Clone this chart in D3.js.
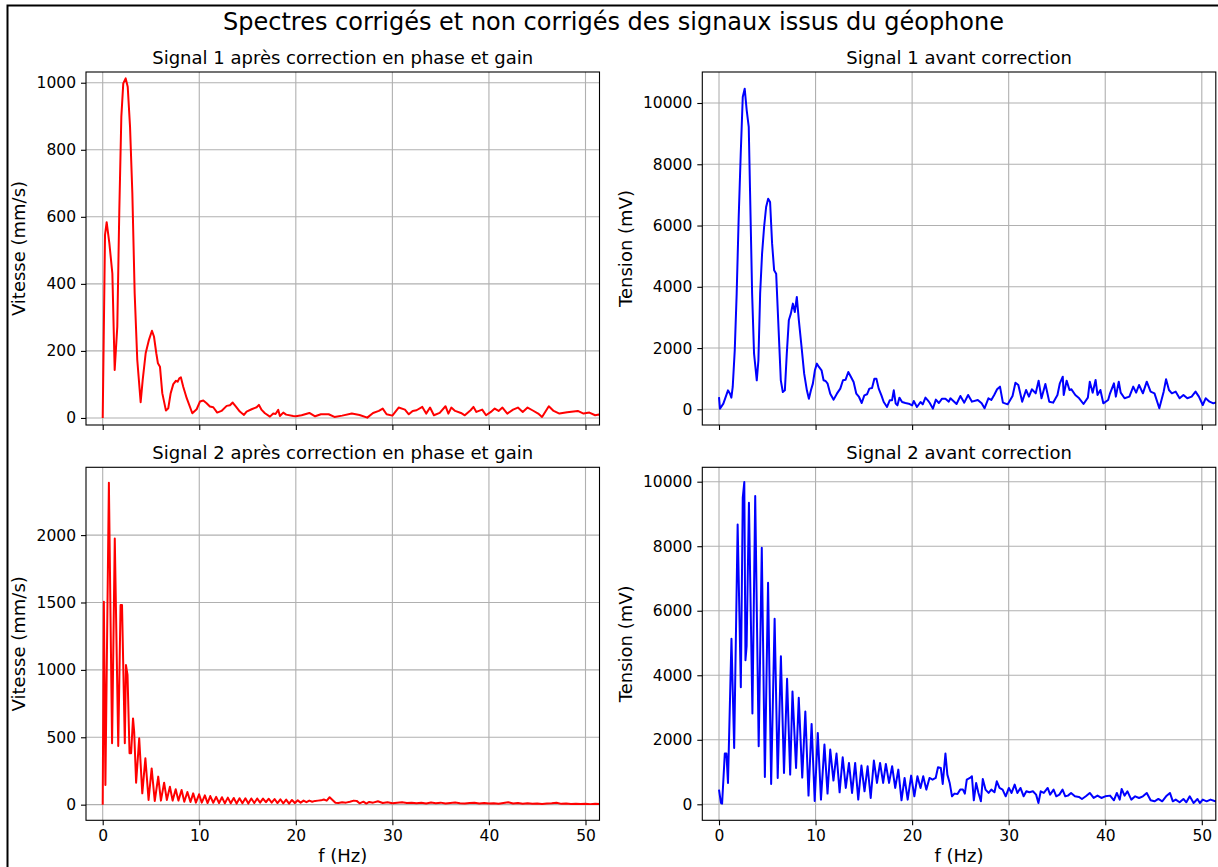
<!DOCTYPE html>
<html>
<head>
<meta charset="utf-8">
<script src="https://cdn.jsdelivr.net/npm/d3@7"></script>
<style>
  html, body { margin: 0; padding: 0; background: #fff; }
  svg { display: block; font-family: "DejaVu Sans", sans-serif; }
</style>
</head>
<body>
<svg id="fig" width="1218" height="867"></svg>
<script>
// Spectrum of signal 1 after phase/gain correction: [f (Hz), velocity (mm/s)]
const signal1Corrected = [
  [0,0],[0.24,546],[0.41,584],[0.69,521],[1.0,431],[1.24,143],[1.51,272],[1.72,620],[1.93,899],[2.13,998],
  [2.38,1013],[2.59,988],[2.83,869],[3.07,670],[3.31,372],[3.58,173],[3.93,47],[4.14,113],[4.45,193],[4.79,233],
  [5.1,260],[5.31,243],[5.55,193],[5.72,163],[5.93,153],[6.17,74],[6.55,22],[6.79,29],[7.04,74],[7.31,101],
  [7.59,111],[7.76,108],[7.93,118],[8.1,121],[8.34,93],[8.7,59],[9.28,14],[9.73,26],[10.07,49],[10.42,52],
  [10.76,44],[11.1,34],[11.45,32],[11.86,16],[12.3,21],[12.84,36],[13.18,38],[13.46,46],[13.8,34],[14.2,19],
  [14.63,9],[14.9,19],[15.42,26],[15.94,32],[16.18,39],[16.46,24],[16.8,14],[17.32,4],[17.66,13],[17.9,12],
  [18.18,24],[18.35,6],[18.7,16],[19.0,10],[19.73,6],[20.0,5],[20.6,8],[21.4,15],[22.0,5],[22.6,11],
  [23.4,11],[24.0,3],[24.8,7],[25.8,13],[26.6,9],[27.4,1],[28.0,15],[28.6,21],[29.0,28],[29.4,11],
  [30.0,7],[30.65,31],[31.3,25],[31.7,11],[32.1,21],[32.5,23],[33.1,33],[33.5,13],[33.9,31],[34.3,8],
  [34.9,15],[35.5,35],[35.8,13],[36.1,31],[36.5,21],[37.1,15],[37.5,8],[38.1,23],[38.4,33],[38.7,18],
  [39.3,25],[39.7,8],[40.2,18],[40.6,28],[41.0,21],[41.4,31],[41.9,13],[42.5,25],[43.0,31],[43.5,18],
  [44.0,31],[44.5,23],[45.1,13],[45.5,3],[46.2,35],[46.7,21],[47.3,13],[48.1,17],[49.2,21],[49.8,13],
  [50.4,16],[51.0,8],[51.4,10],[51.8,9]
];

// Spectrum of signal 1 before correction: [f (Hz), voltage (mV)]
const signal1Raw = [
  [0,400],[0.1,20],[0.45,185],[0.93,620],[1.14,510],[1.28,380],[1.42,730],[1.63,1925],[1.83,3776],[2.04,6280],
  [2.25,8346],[2.46,10196],[2.66,10468],[2.87,9761],[3.08,9217],[3.22,7040],[3.43,3776],[3.63,1817],[3.91,947],[4.08,1600],
  [4.26,3776],[4.46,5082],[4.67,5952],[4.88,6605],[5.09,6877],[5.29,6768],[5.5,5408],[5.71,4538],[5.92,4429],[6.16,2688],
  [6.4,947],[6.61,566],[6.82,620],[7.02,1817],[7.23,2905],[7.44,3123],[7.65,3450],[7.85,3177],[8.06,3667],[8.27,2905],
  [8.55,2035],[8.82,1164],[9.1,620],[9.31,348],[9.52,620],[9.72,838],[9.93,1273],[10.14,1491],[10.35,1382],[10.62,1273],
  [10.83,947],[11.04,925],[11.25,838],[11.52,511],[11.87,316],[12.21,511],[12.56,675],[12.84,947],[13.11,968],[13.39,1219],
  [13.67,1055],[13.94,892],[14.22,511],[14.5,403],[14.78,207],[15.05,457],[15.33,490],[15.57,675],[15.85,696],[16.09,1001],
  [16.3,1001],[16.54,675],[16.82,457],[17.06,239],[17.4,76],[17.68,294],[17.92,294],[18.1,620],[18.3,185],[18.48,130],
  [18.68,381],[18.96,239],[19.3,207],[19.65,185],[20.0,130],[20.17,272],[20.5,76],[20.87,239],[21.1,163],[21.38,381],
  [21.63,294],[21.83,207],[22.15,22],[22.46,316],[22.77,207],[23.1,348],[23.45,348],[23.8,250],[23.97,360],[24.6,174],
  [25.0,435],[25.4,218],[25.8,468],[26.2,250],[26.8,305],[27.2,196],[27.5,33],[27.9,360],[28.2,305],[28.5,468],
  [28.8,653],[29.1,740],[29.4,218],[29.9,163],[30.4,435],[30.7,870],[31.0,794],[31.4,250],[31.8,631],[32.1,414],
  [32.4,653],[32.8,522],[33.1,936],[33.4,360],[33.8,827],[34.2,250],[34.6,218],[35.05,468],[35.3,849],[35.6,1066],
  [35.7,468],[36.0,936],[36.3,631],[36.5,653],[36.9,468],[37.3,360],[37.75,174],[38.2,381],[38.4,903],[38.7,544],
  [39.0,957],[39.2,468],[39.5,631],[39.8,196],[40.3,305],[40.5,522],[40.9,849],[41.1,414],[41.4,903],[41.6,544],
  [42.0,360],[42.5,414],[42.9,740],[43.2,544],[43.5,794],[43.9,522],[44.3,903],[44.7,577],[45.1,522],[45.6,33],
  [46.05,577],[46.3,980],[46.6,631],[46.9,522],[47.3,577],[47.7,360],[48.1,468],[48.5,360],[48.95,414],[49.35,577],
  [49.7,414],[50.1,141],[50.4,360],[50.8,250],[51.2,196],[51.8,250]
];

// Spectrum of signal 2 after phase/gain correction: [f (Hz), velocity (mm/s)]
const signal2Corrected = [
  [0,0],[0.12,1505],[0.28,146],[0.64,2388],[0.97,455],[1.25,1975],[1.61,435],[1.85,1481],[2.0,1481],[2.29,455],
  [2.41,1036],[2.57,962],[2.78,381],[2.94,381],[3.14,640],[3.26,541],[3.46,163],[3.78,492],[4.1,84],[4.42,344],
  [4.75,35],[5.07,269],[5.39,27],[5.75,208],[6.03,30],[6.36,163],[6.64,35],[6.96,133],[7.24,30],[7.56,114],
  [7.84,30],[8.17,109],[8.45,22],[8.77,94],[9.09,20],[9.37,84],[9.65,15],[9.98,77],[10.26,15],[10.58,69],
  [10.86,12],[11.14,64],[11.45,14],[11.75,58],[12.05,12],[12.35,55],[12.65,10],[12.96,52],[13.26,10],[13.57,50],
  [13.87,8],[14.17,48],[14.47,10],[14.78,47],[15.08,8],[15.39,46],[15.7,12],[16.0,46],[16.3,15],[16.6,45],
  [16.9,18],[17.2,44],[17.5,15],[17.8,42],[18.1,12],[18.4,40],[18.7,10],[19.0,38],[19.3,8],[19.6,35],
  [19.9,12],[20.2,32],[20.5,15],[20.8,30],[21.1,18],[21.4,30],[21.7,22],[22.0,28],[22.3,30],[22.6,32],
  [22.9,38],[23.2,30],[23.5,55],[23.8,35],[24.1,15],[24.4,12],[24.8,18],[25.2,15],[25.6,22],[26.0,30],
  [26.3,28],[26.6,10],[27.0,22],[27.3,8],[27.6,20],[28.0,15],[28.5,25],[29.0,12],[29.5,18],[30.0,10],
  [30.5,15],[31.0,18],[31.5,12],[32.0,15],[32.5,10],[33.0,14],[33.5,8],[34.0,16],[34.5,10],[35.0,15],
  [35.5,8],[36.0,12],[36.5,16],[37.0,10],[37.5,8],[38.0,12],[38.5,15],[39.0,9],[39.5,12],[40.0,8],
  [40.5,10],[41.0,6],[41.5,12],[42.0,18],[42.5,9],[43.0,12],[43.5,7],[44.0,10],[44.5,6],[45.0,9],
  [45.5,5],[46.0,8],[46.5,10],[47.0,14],[47.5,6],[48.0,8],[48.5,5],[49.0,7],[49.5,5],[50.0,6],
  [50.5,4],[51.0,6],[51.8,5]
];

// Spectrum of signal 2 before correction: [f (Hz), voltage (mV)]
const signal2Raw = [
  [0,455],[0.2,41],[0.32,21],[0.6,1572],[0.77,1572],[0.93,662],[1.29,5129],[1.57,1748],[1.93,8676],[2.26,3630],
  [2.46,9504],[2.62,9990],[2.74,4467],[2.86,4902],[3.1,9348],[3.46,2813],[3.75,9555],[4.11,1799],[4.43,7952],[4.75,848],
  [5.08,6867],[5.4,631],[5.76,5750],[6.08,817],[6.41,4592],[6.73,972],[7.05,3888],[7.37,920],[7.61,3495],[7.98,1127],
  [8.26,3299],[8.62,827],[8.94,2875],[9.27,269],[9.59,2492],[9.91,103],[10.23,2213],[10.56,145],[10.92,1851],[11.24,331],
  [11.52,1696],[11.85,734],[12.17,1572],[12.49,372],[12.81,1458],[13.13,507],[13.46,1282],[13.78,352],[14.1,1282],[14.42,145],
  [14.75,1200],[15.07,403],[15.39,1179],[15.71,196],[16.04,1355],[16.36,662],[16.68,1282],[17.0,662],[17.28,1251],[17.61,662],
  [17.93,1179],[18.25,507],[18.57,1075],[18.9,124],[19.22,817],[19.54,145],[19.9,889],[20.23,248],[20.55,869],[20.87,507],
  [21.15,869],[21.47,455],[21.8,817],[22.12,765],[22.44,817],[22.68,1148],[22.97,1127],[23.17,631],[23.45,1572],[23.65,920],
  [23.89,662],[24.13,248],[24.38,331],[24.7,320],[24.98,455],[25.26,455],[25.46,331],[25.66,765],[25.99,817],[26.19,869],
  [26.39,124],[26.63,662],[26.87,352],[27.12,93],[27.32,786],[27.6,455],[27.92,352],[28.2,455],[28.53,372],[28.77,714],
  [29.05,507],[29.37,455],[29.69,248],[30.02,507],[30.3,352],[30.62,610],[30.9,352],[31.22,507],[31.55,248],[31.83,403],
  [32.15,372],[32.51,403],[32.84,300],[33.08,41],[33.32,403],[33.64,352],[34.04,507],[34.29,300],[34.65,455],[34.93,248],
  [35.25,300],[35.58,455],[35.86,248],[36.14,269],[36.46,352],[36.86,248],[37.27,228],[37.59,165],[37.99,248],[38.4,352],
  [38.8,196],[39.2,269],[39.6,196],[40.0,248],[40.5,269],[40.9,124],[41.2,352],[41.5,145],[41.7,476],[42.0,269],
  [42.3,403],[42.7,145],[43.1,248],[43.5,196],[43.9,248],[44.3,352],[44.7,124],[45.1,93],[45.5,165],[45.9,93],
  [46.3,248],[46.7,352],[47.0,93],[47.3,145],[47.7,62],[48.1,165],[48.4,62],[48.75,248],[49.15,41],[49.55,165],
  [49.8,41],[50.1,145],[50.5,93],[50.9,145],[51.4,93],[51.8,120]
];

// Tick values
const freqTicks = [0, 10, 20, 30, 40, 50];
const velTicks1 = [0, 200, 400, 600, 800, 1000];
const velTicks2 = [0, 500, 1000, 1500, 2000];
const voltTicks = [0, 2000, 4000, 6000, 8000, 10000];

// Texts
const figTitle = "Spectres corrigés et non corrigés des signaux issus du géophone";
const panelTitles = [
  "Signal 1 après correction en phase et gain",
  "Signal 1 avant correction",
  "Signal 2 après correction en phase et gain",
  "Signal 2 avant correction"
];
const yLabels = ["Vitesse (mm/s)", "Tension (mV)", "Vitesse (mm/s)", "Tension (mV)"];
const xLabel = "f (Hz)";

// Layout of the 2x2 grid
const colLeft = [86, 702.3];
const rowTop = [72, 467.3];
const panelW = 513.5;
const panelH = 353;
const freqDomain = [-1.73, 51.45];

const panels = [
  { data: signal1Corrected, color: "#ff0000", yDomain: [-21, 1032], ticks: velTicks1, col: 0, row: 0 },
  { data: signal1Raw,       color: "#0000ff", yDomain: [-512, 11012], ticks: voltTicks, col: 1, row: 0 },
  { data: signal2Corrected, color: "#ff0000", yDomain: [-116, 2503], ticks: velTicks2, col: 0, row: 1 },
  { data: signal2Raw,       color: "#0000ff", yDomain: [-496, 10446], ticks: voltTicks, col: 1, row: 1 }
];

const svg = d3.select("#fig");
svg.append("rect").attr("width", 1218).attr("height", 867).attr("fill", "#fff");

// Figure frame
svg.append("rect")
  .attr("x", 7.5).attr("y", 5.5).attr("width", 1240).attr("height", 900)
  .attr("fill", "none").attr("stroke", "#000").attr("stroke-width", 2);

svg.append("text")
  .attr("x", 613.5).attr("y", 29.5)
  .attr("text-anchor", "middle")
  .attr("font-size", "24px")
  .attr("fill", "#000")
  .text(figTitle);

const defs = svg.append("defs");

panels.forEach((p, i) => {
  const x0 = colLeft[p.col], y0 = rowTop[p.row];
  const x = d3.scaleLinear().domain(freqDomain).range([x0, x0 + panelW]);
  const y = d3.scaleLinear().domain(p.yDomain).range([y0 + panelH, y0]);
  const g = svg.append("g");

  defs.append("clipPath").attr("id", "clip" + i)
    .append("rect").attr("x", x0).attr("y", y0).attr("width", panelW).attr("height", panelH);

  // grid
  g.append("g").selectAll("line").data(freqTicks).join("line")
    .attr("x1", d => x(d)).attr("x2", d => x(d))
    .attr("y1", y0).attr("y2", y0 + panelH)
    .attr("stroke", "#b0b0b0").attr("stroke-width", 1.1);
  g.append("g").selectAll("line").data(p.ticks).join("line")
    .attr("x1", x0).attr("x2", x0 + panelW)
    .attr("y1", d => y(d)).attr("y2", d => y(d))
    .attr("stroke", "#b0b0b0").attr("stroke-width", 1.1);

  // spectrum line
  const line = d3.line().x(d => x(d[0])).y(d => y(d[1]));
  g.append("path")
    .datum(p.data)
    .attr("clip-path", `url(#clip${i})`)
    .attr("d", line)
    .attr("fill", "none")
    .attr("stroke", p.color)
    .attr("stroke-width", 2)
    .attr("stroke-linejoin", "round");

  // axes
  const yAxis = d3.axisLeft(y).tickValues(p.ticks).tickFormat(d3.format("d")).tickSize(5).tickPadding(5);
  const ya = g.append("g").attr("transform", `translate(${x0},0)`).call(yAxis);
  const xAxis = d3.axisBottom(x).tickValues(freqTicks).tickSize(5).tickPadding(5)
    .tickFormat(p.row === 1 ? d3.format("d") : () => "");
  const xa = g.append("g").attr("transform", `translate(0,${y0 + panelH})`).call(xAxis);
  [ya, xa].forEach(a => {
    a.select(".domain").remove();
    a.selectAll(".tick line").attr("stroke", "#000").attr("stroke-width", 1.1);
    a.selectAll(".tick text").attr("font-size", "15.5px").attr("fill", "#000")
      .attr("font-family", "DejaVu Sans, sans-serif");
  });

  // spines
  g.append("rect")
    .attr("x", x0).attr("y", y0).attr("width", panelW).attr("height", panelH)
    .attr("fill", "none").attr("stroke", "#000").attr("stroke-width", 1.1);

  // panel title
  g.append("text")
    .attr("x", x0 + panelW / 2).attr("y", y0 - 8)
    .attr("text-anchor", "middle").attr("font-size", "18px").attr("fill", "#000")
    .text(panelTitles[i]);

  // y label
  const lx = p.col === 0 ? 25 : 632;
  g.append("text")
    .attr("transform", `translate(${lx},${y0 + panelH / 2}) rotate(-90)`)
    .attr("text-anchor", "middle").attr("font-size", "18px").attr("fill", "#000")
    .text(yLabels[i]);

  if (p.row === 1) {
    g.append("text")
      .attr("x", x0 + panelW / 2).attr("y", 862)
      .attr("text-anchor", "middle").attr("font-size", "18px").attr("fill", "#000")
      .text(xLabel);
  }
});
</script>
</body>
</html>
